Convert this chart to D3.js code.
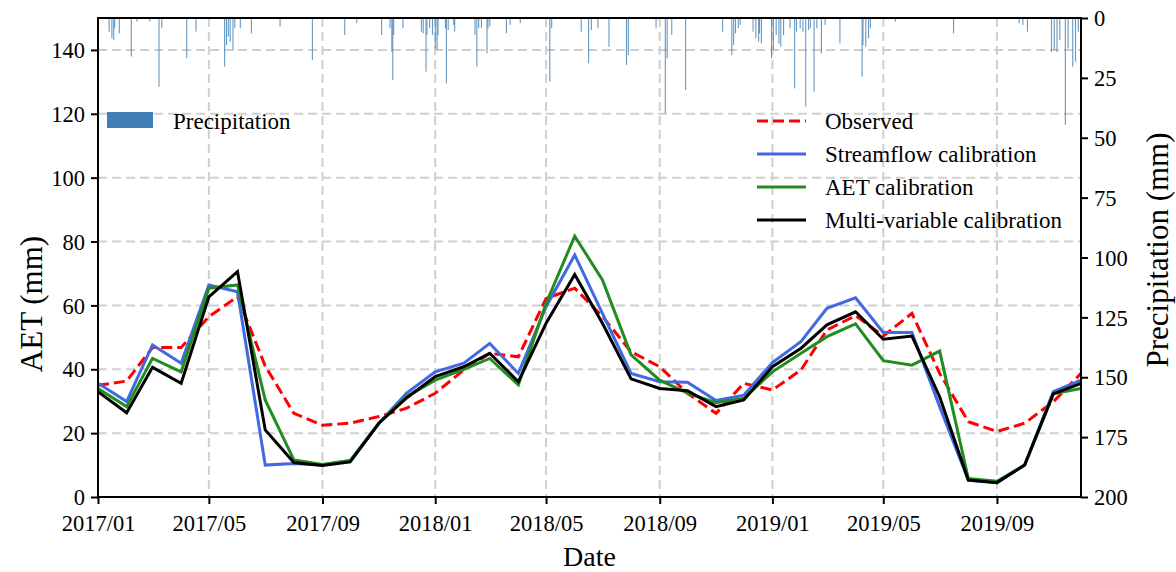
<!DOCTYPE html>
<html>
<head>
<meta charset="utf-8">
<script src="https://cdn.jsdelivr.net/npm/d3@7"></script>
<style>
  html, body { margin: 0; padding: 0; background: #fff; }
  svg { display: block; }
  text { font-family: "Liberation Serif", "Times New Roman", serif; fill: #000; }
</style>
</head>
<body>
<svg id="chart" width="1176" height="572"></svg>
<script>
// ---------------- data ----------------
const months = ["2017-01","2017-02","2017-03","2017-04","2017-05","2017-06","2017-07","2017-08","2017-09","2017-10","2017-11","2017-12",
                "2018-01","2018-02","2018-03","2018-04","2018-05","2018-06","2018-07","2018-08","2018-09","2018-10","2018-11","2018-12",
                "2019-01","2019-02","2019-03","2019-04","2019-05","2019-06","2019-07","2019-08","2019-09","2019-10","2019-11","2019-12"];
const observed    = [35,36.3,46.8,46.8,56.5,62.7,41,26.2,22.5,23.1,25.2,27.8,32.5,39.8,45,43.9,62.2,65.4,56.5,45.5,40.8,32.5,26.2,35.6,33.5,39.8,52.3,56.8,50.4,57.5,38.7,23.6,20.5,23.1,29.8,38.7];
const streamflow  = [35.6,29.9,47.6,41.9,66.4,64.3,10,10.5,10,11.4,23.1,32.5,39.2,41.9,48.1,38.7,59.6,75.8,57.5,38.7,36.1,35.9,30.2,31.9,42.1,48.7,59.1,62.4,51.5,51.5,28.3,5.3,4.5,10,33,36.6];
const aetCal      = [34,28.3,43.4,39.2,65.4,66.4,30.4,11.6,10.2,11.4,23.1,31.4,36.6,40,43.4,35.1,60.7,81.7,68,44.5,36.6,32.5,29.5,30.9,39.2,45,50.2,54.2,42.7,41.3,45.7,5.8,4.9,10,32.3,34];
const multiCal    = [33,26.4,40.6,35.6,62.7,70.6,21,10.8,9.9,11,23.1,31,37.7,40.8,45,36.1,54.4,69.7,54.4,37,34,33.3,28.3,30.4,40.8,46.6,53.9,58,49.4,50.4,31.4,5.3,4.5,10,32.3,35.6];

// daily precipitation events: day offset from 2017-01-01 and depth (mm)
const precipDay = [12,15,17,18,23,36,42,56,66,69,96,106,137,139,141,143,146,148,154,166,197,232,267,280,307,316,318,319,320,330,
                   350,352,355,356,359,362,365,367,368,376,377,379,385,386,408,410,412,415,421,422,424,442,446,457,489,491,523,531,534,541,
                   553,572,574,604,614,616,621,636,676,686,688,690,693,695,709,712,715,716,718,729,731,734,737,739,742,749,754,756,760,763,
                   766,769,771,775,778,783,787,803,827,828,831,834,836,863,926,997,1001,1006,1032,1035,1038,1041,1047,1050,1055,1058,1061];
const precipMM  = [5.7,8.5,9.2,4.3,6.4,16.1,1.5,1.5,28.7,4.3,16.8,5.7,20.3,11.3,7.8,9.9,13.4,4.3,4.3,6.4,3.6,17.5,7.1,2.2,7.1,4.3,14.1,25.9,7.1,4.3,
                   5.7,6.4,22.4,7.1,4.3,7.1,12.7,13.4,7.1,4.3,27.3,5.0,2.9,5.7,7.1,20.3,4.3,4.3,14.8,4.3,3.6,6.4,2.9,2.2,26.6,4.3,5.7,18.9,5.0,4.3,
                   12.0,19.6,15.4,4.3,39.8,16.8,7.1,30.1,5.7,15.4,11.3,6.4,4.3,2.9,5.7,8.5,9.9,6.4,10.6,16.8,13.4,7.1,10.6,12.0,7.1,4.3,29.4,5.7,4.3,5.7,
                   37.0,5.0,4.3,30.8,4.3,14.8,2.9,10.6,24.5,11.3,12.0,8.5,4.3,1.5,6.4,2.2,2.9,5.7,14.1,13.4,14.1,9.2,44.6,12.7,20.3,18.2,5.7];

const xTickMonths = ["2017-01","2017-05","2017-09","2018-01","2018-05","2018-09","2019-01","2019-05","2019-09"];
const yLeftTicks  = [0,20,40,60,80,100,120,140];
const yRightTicks = [0,25,50,75,100,125,150,175,200];

const seriesNames  = ["Observed","Streamflow calibration","AET calibration","Multi-variable calibration"];
const seriesColors = ["#ff0000","#4169e1","#228b22","#000000"];

// ---------------- layout ----------------
const svg = d3.select("#chart");
const L = 98, R = 1081, T = 18, B = 497;
const parseM = d3.timeParse("%Y-%m");
const dates = months.map(parseM);
const start = parseM("2017-01");

const x = d3.scaleTime().domain([parseM("2017-01"), parseM("2019-12")]).range([L, R]);
const yL = d3.scaleLinear().domain([0, 150]).range([B, T]);
const yR = d3.scaleLinear().domain([0, 200]).range([T, B]);

svg.append("defs").append("clipPath").attr("id", "clip")
  .append("rect").attr("x", L).attr("y", T).attr("width", R - L).attr("height", B - T);

// grid
const grid = svg.append("g");
grid.selectAll("line.gx").data(xTickMonths.map(parseM)).join("line")
  .attr("x1", d => x(d)).attr("x2", d => x(d)).attr("y1", T).attr("y2", B)
  .attr("stroke", "#cfcfcf").attr("stroke-width", 2).attr("stroke-dasharray", "9,5");
grid.selectAll("line.gy").data(yLeftTicks.filter(d => d > 0)).join("line")
  .attr("x1", L).attr("x2", R).attr("y1", d => yL(d)).attr("y2", d => yL(d))
  .attr("stroke", "#cfcfcf").attr("stroke-width", 2).attr("stroke-dasharray", "9,5");

// precipitation bars
const pdata = precipDay.map((d, i) => ({ date: d3.timeDay.offset(start, d), v: precipMM[i] }));
svg.append("g").attr("clip-path", "url(#clip)")
  .selectAll("rect").data(pdata).join("rect")
  .attr("x", d => x(d.date) - 0.5).attr("width", 1.1)
  .attr("y", yR(0)).attr("height", d => yR(d.v) - yR(0))
  .attr("fill", "#3f7fb5").attr("opacity", 0.8);

// lines
const allSeries = [observed, streamflow, aetCal, multiCal];
const line = d3.line().x((d, i) => x(dates[i])).y(d => yL(d));
const lg = svg.append("g").attr("clip-path", "url(#clip)");
allSeries.forEach((s, k) => {
  lg.append("path").datum(s)
    .attr("d", line)
    .attr("fill", "none")
    .attr("stroke", seriesColors[k])
    .attr("stroke-width", 3)
    .attr("stroke-linejoin", "miter")
    .attr("stroke-dasharray", k === 0 ? "11,5" : null);
});

// frame
svg.append("rect").attr("x", L).attr("y", T).attr("width", R - L).attr("height", B - T)
  .attr("fill", "none").attr("stroke", "#000").attr("stroke-width", 2);

// axes
const fmt = d3.timeFormat("%Y/%m");
const tickFont = "22.5px";
const gx = svg.append("g").attr("transform", `translate(0,${B})`)
  .call(d3.axisBottom(x).tickValues(xTickMonths.map(parseM)).tickFormat(fmt).tickSize(7).tickPadding(6));
const gl = svg.append("g").attr("transform", `translate(${L},0)`)
  .call(d3.axisLeft(yL).tickValues(yLeftTicks).tickSize(7).tickPadding(6));
const gr = svg.append("g").attr("transform", `translate(${R},0)`)
  .call(d3.axisRight(yR).tickValues(yRightTicks).tickSize(7).tickPadding(6));
[gx, gl, gr].forEach(g => {
  g.select(".domain").remove();
  g.selectAll(".tick line").attr("stroke", "#000").attr("stroke-width", 2);
  g.selectAll(".tick text").attr("font-size", tickFont)
    .attr("font-family", "Liberation Serif, Times New Roman, serif").attr("fill", "#000");
});
gx.selectAll(".tick text").attr("dy", "0.95em");
gl.selectAll(".tick text").attr("dy", "0.34em");
gr.selectAll(".tick text").attr("dy", "0.34em");

// axis titles
svg.append("text").attr("x", (L + R) / 2).attr("y", 566).attr("text-anchor", "middle")
  .attr("font-size", "28px").text("Date");
svg.append("text").attr("transform", `translate(42,304) rotate(-90)`)
  .attr("text-anchor", "middle").attr("font-size", "31px").text("AET (mm)");
svg.append("text").attr("transform", `translate(1168,250) rotate(-90)`)
  .attr("text-anchor", "middle").attr("font-size", "31px").text("Precipitation (mm)");

// legends
const legP = svg.append("g");
legP.append("rect").attr("x", 107).attr("y", 112).attr("width", 46).attr("height", 16).attr("fill", "#3f7fb5");
legP.append("text").attr("x", 173).attr("y", 128.5).attr("font-size", "23px").text("Precipitation");

const leg = svg.append("g");
seriesNames.forEach((n, k) => {
  const yy = 121 + k * 33;
  leg.append("line").attr("x1", 757).attr("x2", 806).attr("y1", yy).attr("y2", yy)
    .attr("stroke", seriesColors[k]).attr("stroke-width", 3)
    .attr("stroke-dasharray", k === 0 ? "11,5" : null);
  leg.append("text").attr("x", 825).attr("y", yy + 8).attr("font-size", "23px").text(n);
});
</script>
</body>
</html>
